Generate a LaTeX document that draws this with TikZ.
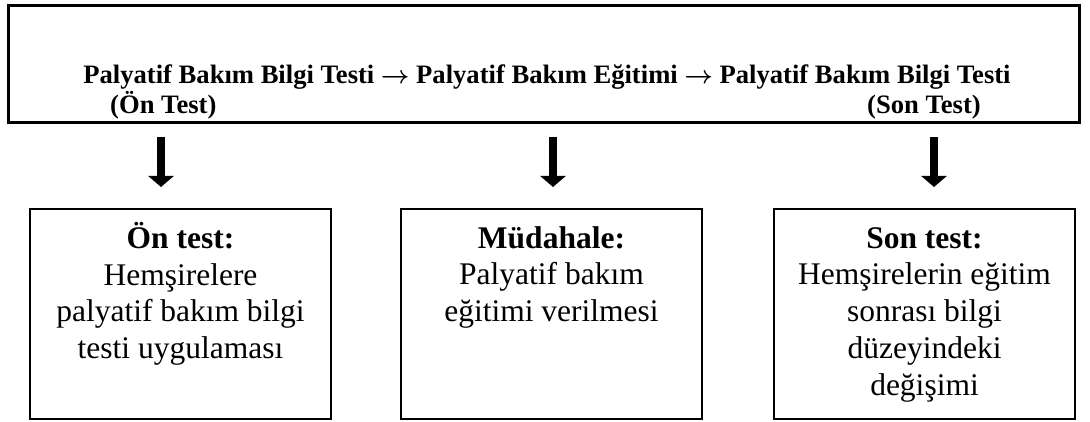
\documentclass[tikz,border=0pt]{standalone}
\usepackage{fontspec}
\setmainfont{Liberation Serif}
\usetikzlibrary{arrows.meta}
\newcommand{\flowto}{{\boldmath$\rightarrow$}}
\begin{document}
\begin{tikzpicture}[x=1pt, y=-1pt, inner sep=0pt,
  bigbox/.style={draw, line width=3pt, minimum width=1071pt, minimum height=117pt},
  smallbox/.style={draw, line width=2pt, minimum width=301pt, minimum height=210pt},
  heading/.style={font=\fontsize{26.6}{30}\selectfont\bfseries},
  boxtext/.style={anchor=north, align=center, font=\fontsize{31.5}{36.7}\selectfont},
  pointer/.style={line width=8pt, -{Triangle[width=25pt, length=11pt]}}]
\useasboundingbox (0,0) rectangle (1090,422);
\node[bigbox] (T_0) at (543.5,64.5) {};
\node[heading, anchor=base] (T_1) at (547,84) {Palyatif Bakım Bilgi Testi \flowto{} Palyatif Bakım Eğitimi \flowto{} Palyatif Bakım Bilgi Testi};
\node[heading, anchor=base west] (T_2) at (110,114) {(Ön Test)};
\node[heading, anchor=base west] (T_3) at (867,114) {(Son Test)};
\node[smallbox] (B_0) at (180.5,314) {};
\node[boxtext] (B_0_t) at (180.5,222) {\rule{0pt}{26pt}\textbf{Ön test:}\\Hemşirelere\\palyatif bakım bilgi\\testi uygulaması};
\node[smallbox] (B_1) at (551.5,314) {};
\node[boxtext] (B_1_t) at (551.5,222) {\rule{0pt}{26pt}\textbf{Müdahale:}\\Palyatif bakım\\eğitimi verilmesi};
\node[smallbox] (B_2) at (924.5,314) {};
\node[boxtext] (B_2_t) at (924.5,222) {\rule{0pt}{26pt}\textbf{Son test:}\\Hemşirelerin eğitim\\sonrası bilgi\\düzeyindeki\\değişimi};
\coordinate (A_0) at (161,137);
\coordinate (A_0_e) at (161,187);
\draw[pointer] (A_0) -- (A_0_e);
\coordinate (A_1) at (553,137);
\coordinate (A_1_e) at (553,187);
\draw[pointer] (A_1) -- (A_1_e);
\coordinate (A_2) at (934,137);
\coordinate (A_2_e) at (934,187);
\draw[pointer] (A_2) -- (A_2_e);
\end{tikzpicture}
\end{document}
